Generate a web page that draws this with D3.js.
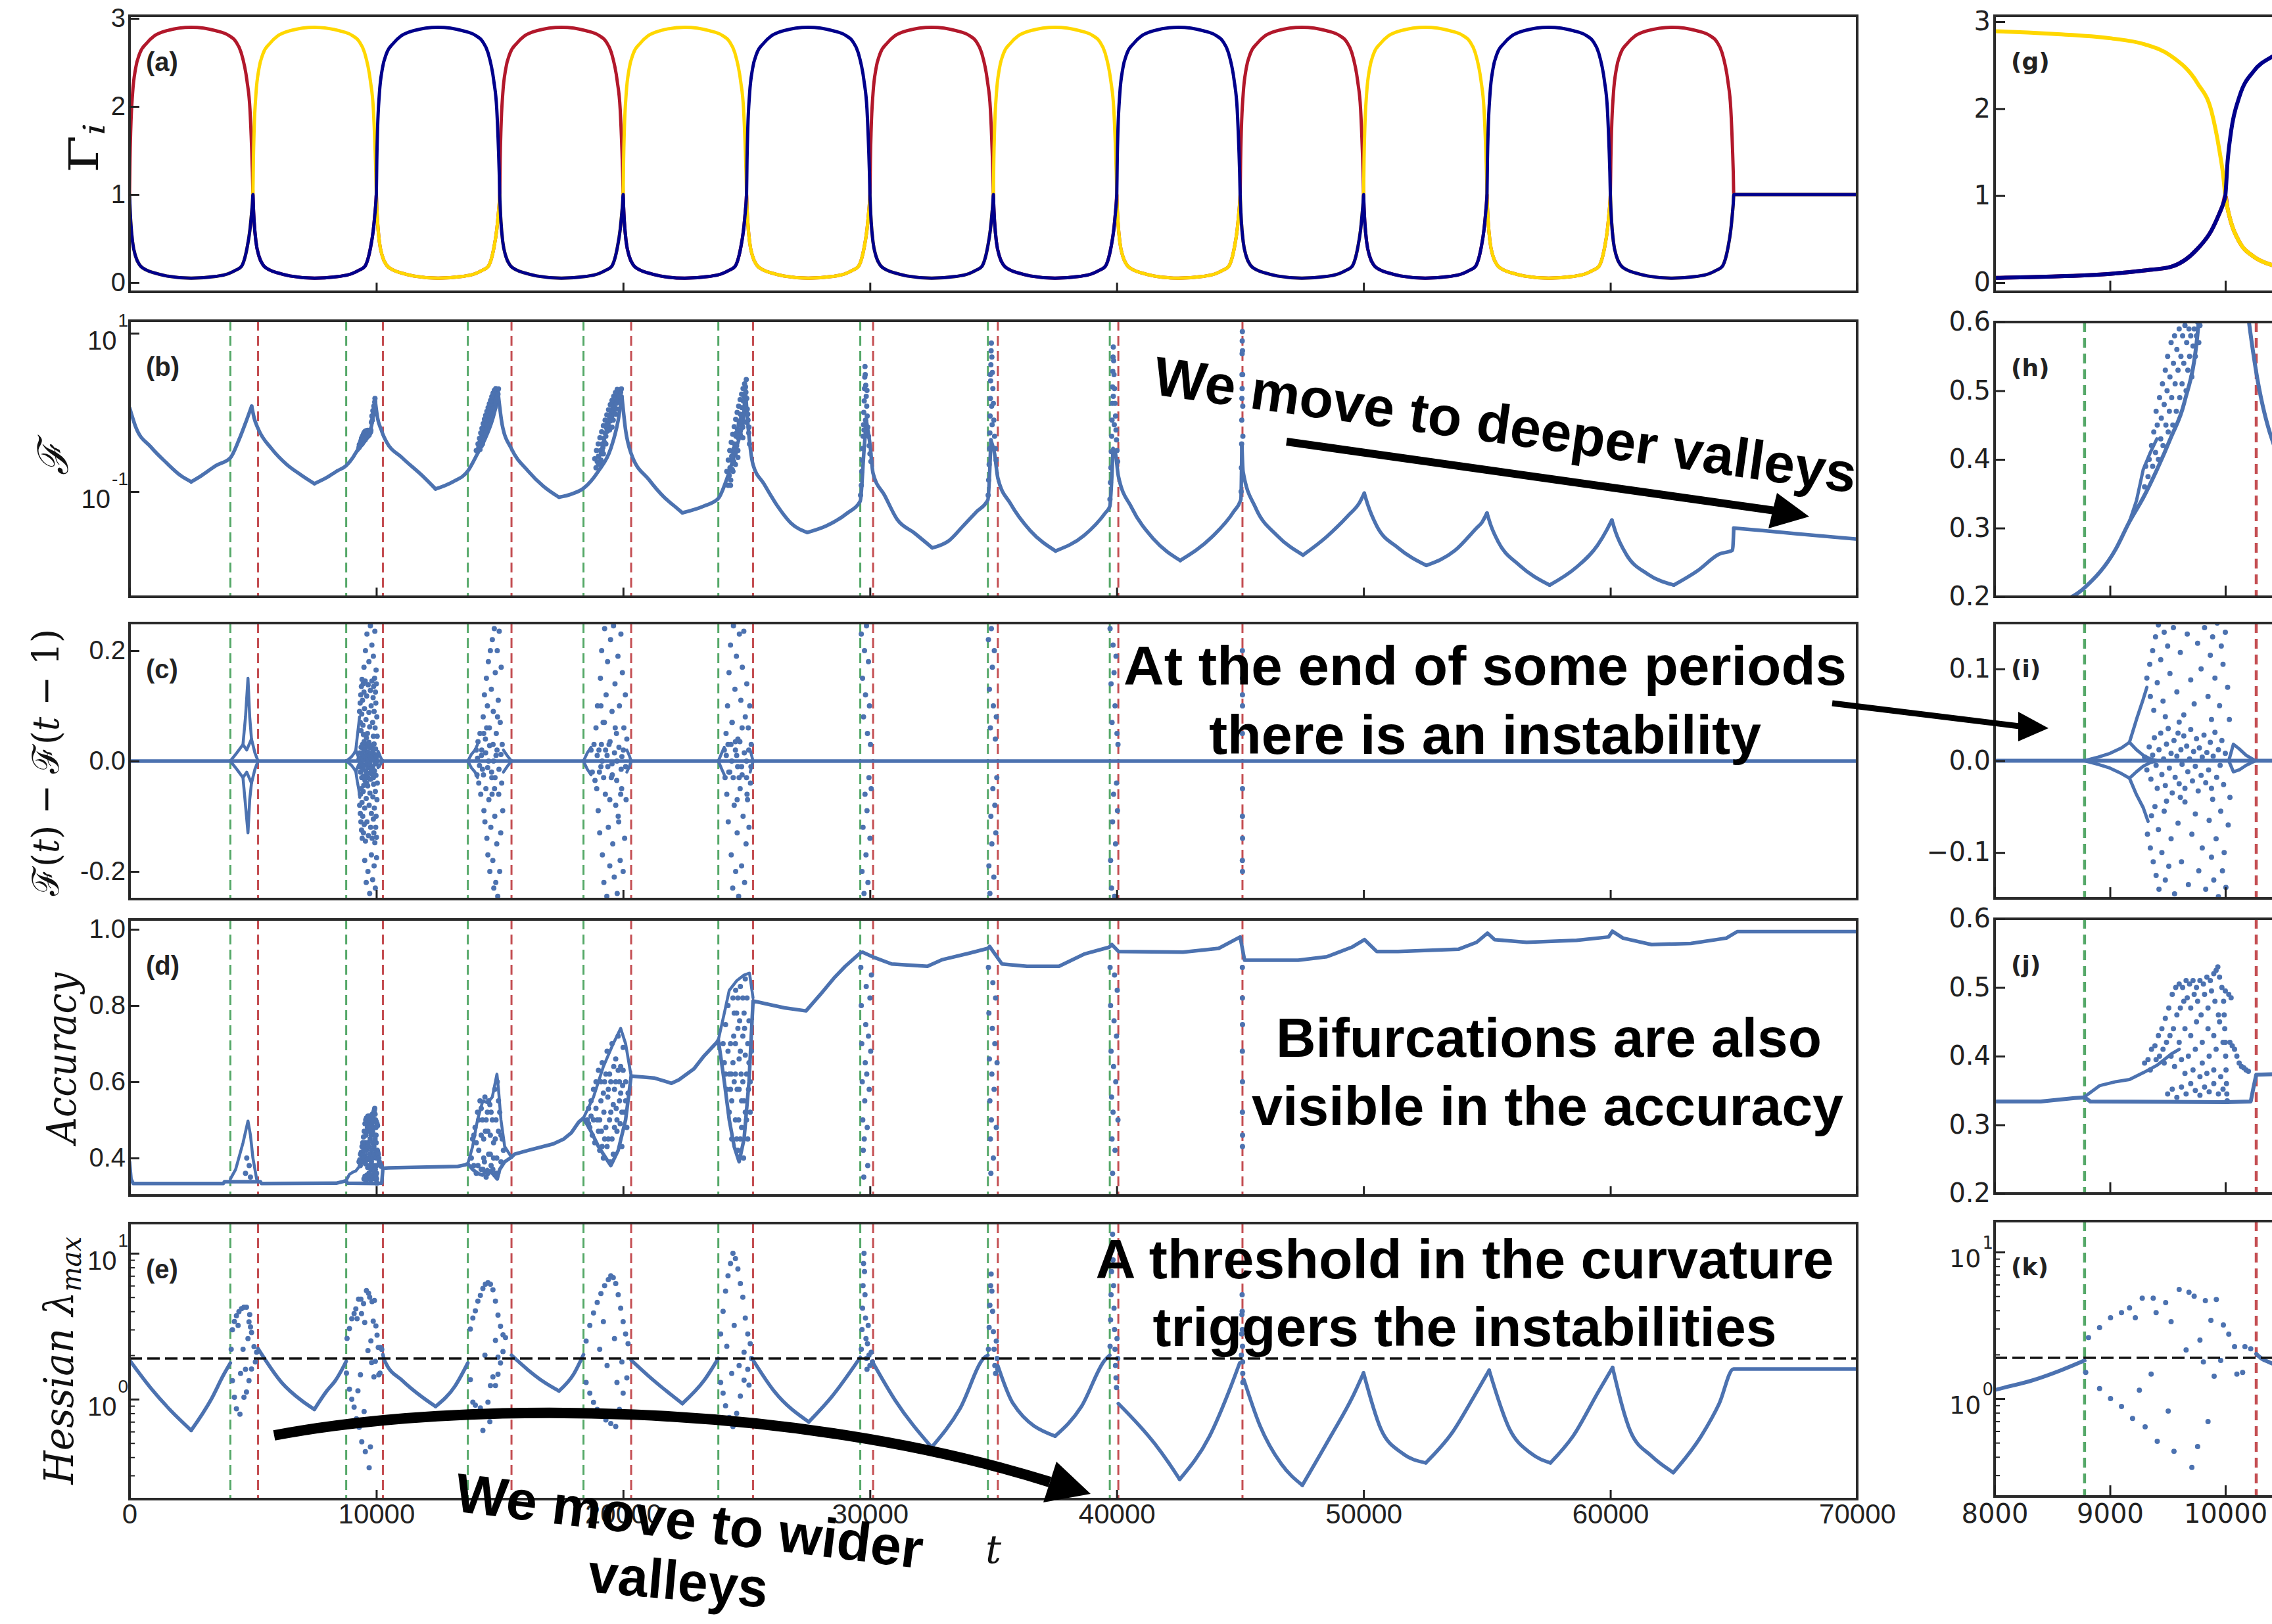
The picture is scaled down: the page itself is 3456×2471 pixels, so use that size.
<!DOCTYPE html>
<html><head><meta charset="utf-8">
<script src="https://cdn.jsdelivr.net/npm/d3@7/dist/d3.min.js"></script>
<style>html,body{margin:0;padding:0;background:#fff;} svg{display:block;}</style>
</head><body>
<svg id="chart" width="3456" height="2471" xmlns="http://www.w3.org/2000/svg"></svg>
<script>
// ================= DATA =================
const greenLines = [4086, 8780, 13708, 18394, 23857, 29608, 34779, 39718];
const redLines = [5208, 10268, 15477, 20325, 25264, 30128, 35183, 40064, 45094];
const xTicksL = [0,10000,20000,30000,40000,50000,60000,70000];
const xTicksR = [8000,9000,10000];
const hessThreshold = 1.9;

const periodStarts = [0,5000,10000,15000,20000,25000,30000,35000,40000,45000,50000,55000,60000];
const periodLeader = ['r','y','b','r','y','b','r','y','b','r','y','b','r'];
const gammaOffsets = [0,20,50,125,245,410,700,1000,1500,2500,3500,4000,4300,4525,4760,4880,4950,4980,5000];
const gammaHigh = [1,1.4,1.74,2.15,2.43,2.6,2.72,2.8,2.86,2.9,2.86,2.81,2.74,2.61,2.29,1.97,1.51,1.25,1];
const gammaLow  = [1,0.85,0.69,0.46,0.3,0.2,0.14,0.11,0.075,0.05,0.07,0.1,0.14,0.18,0.39,0.6,0.8,0.9,1];
const gammaTail = [[70000,1]];

// (b) loss F
const fLine = [[0,1.153],[255,0.65],[866,0.366],[1478,0.234],[2090,0.158],[2500,0.133],[2900,0.158],[3515,0.214],[4086,0.267],[4430,0.447],[4740,0.794],[4950,1.2],
[5050,0.85],[5217,0.617],[5760,0.347],[6370,0.22],[6980,0.16],[7490,0.126],[8000,0.151],[8410,0.182],[8779,0.213],[9049,0.269],[9168,0.309],[9288,0.344],[9407,0.385],[9526,0.431],[9645,0.483],[9765,0.593],[9860,0.85],[9950,1.45],[10050,0.85],[10205,0.6],[10265,0.53],[10403,0.43],
[11050,0.267],[11870,0.158],[12400,0.108],[13100,0.133],[13708,0.182],[14100,0.302],[14420,0.473],[14700,0.8],[14950,1.6],[15100,0.7],[15477,0.347],
[16150,0.182],[16770,0.117],[17400,0.085],[17900,0.093],[18394,0.11],[19000,0.182],[19500,0.35],[19800,0.8],[19950,1.6],[20100,0.6],[20325,0.302],
[21050,0.141],[21660,0.085],[22070,0.066],[22400,0.054],[23290,0.066],[23857,0.082],[24160,0.133],[24570,0.347],[24880,0.89],[24950,2.0],[25100,0.5],[25264,0.219],
[25700,0.126],[26250,0.066],[26800,0.04],[27465,0.0305],[28240,0.037],[29100,0.054],[29608,0.076],[29750,0.3],[29850,0.8],[30000,0.4],[30128,0.17],
[30600,0.089],[31100,0.0447],[31800,0.03],[32525,0.0195],[33200,0.024],[33780,0.037],[34300,0.055],[34779,0.079],[34900,0.45],[35050,0.3],[35183,0.148],
[35700,0.07],[36500,0.032],[37520,0.0178],[38680,0.028],[39540,0.054],[39718,0.065],[39850,0.35],[39950,0.3],[40064,0.158],
[40600,0.063],[41500,0.025],[42570,0.0135],[43870,0.027],[44740,0.056],[45030,0.08],[45070,0.4],[45120,0.178],
[45620,0.063],[46490,0.028],[47550,0.0158],[48510,0.027],[49380,0.05],[49830,0.072],[50030,0.0955],[50180,0.067],[50530,0.037],[51400,0.0195],[52545,0.0117],[53700,0.018],[54580,0.0347],[54800,0.041],[55000,0.0537],[55150,0.038],[55450,0.0234],[56320,0.0117],[57540,0.0066],[58610,0.011],[59480,0.021],[59860,0.033],[60060,0.0437],[60210,0.031],[60640,0.0162],[61510,0.0091],[62570,0.0066],[63530,0.01],[64400,0.0162],[64950,0.0182],[65000,0.0347],[67500,0.0295],[70000,0.0251]];
const fBranches = [[[9168,0.309],[9230,0.34],[9288,0.385],[9350,0.41],[9407,0.43]]];
const fCloud = [
[9300,0.36],[9310,0.39],[9330,0.375],[9340,0.40],[9360,0.42],[9370,0.39],[9380,0.44],[9395,0.41],[9400,0.47],[9410,0.45],[9420,0.40],[9430,0.49],[9440,0.43],[9445,0.46],[9455,0.51],[9460,0.42],[9470,0.48],[9480,0.53],[9485,0.45],[9495,0.50],[9500,0.55],[9505,0.44],[9515,0.47],[9520,0.52],[9530,0.57],[9535,0.49],[9545,0.45],[9550,0.54],[9560,0.58],[9565,0.51],[9575,0.47],[9580,0.56],[9590,0.53],[9600,0.59],[9605,0.49],[9615,0.55],[9625,0.51],[9630,0.58],[9640,0.54],[9650,0.595],[9660,0.50],[9665,0.57],[9675,0.53],[9685,0.59],[9690,0.55],[9700,0.58],[9710,0.52],[9720,0.565],[9730,0.59],[9740,0.55],[9750,0.58],[9760,0.60],[9770,0.57],[9780,0.595],
[9800,0.75],[9820,0.9],[9840,0.8],[9860,1.05],[9880,0.95],[9900,1.2],[9920,1.1],[9935,1.35],[9945,1.5],
[14150,0.36],[14200,0.42],[14250,0.38],[14280,0.5],[14320,0.45],[14350,0.58],[14380,0.52],[14400,0.66],[14430,0.6],[14460,0.75],[14490,0.68],[14510,0.85],[14540,0.78],[14570,0.95],[14600,0.88],[14620,1.05],[14650,0.98],[14680,1.18],[14710,1.1],[14740,1.3],[14770,1.22],[14800,1.45],[14830,1.38],[14860,1.62],[14890,1.55],[14910,1.8],[14930,1.7],[14950,1.98],[14600,0.72],[14700,0.9],[14800,1.15],[14500,0.62],[14300,0.4],[14420,0.55],
[14050,0.33],[14120,0.4],[14180,0.47],[14230,0.55],[14280,0.63],[14330,0.72],[14380,0.82],[14430,0.92],[14480,1.03],[14530,1.15],[14580,1.28],[14630,1.42],[14680,1.58],[14730,1.75],[14780,1.9],[14840,2.0],[14200,0.34],[14350,0.48],[14500,0.7],[14650,0.85],
[18900,0.2],[18950,0.24],[19000,0.28],[19050,0.23],[19080,0.33],[19120,0.3],[19150,0.4],[19180,0.36],[19210,0.47],[19240,0.42],[19270,0.55],[19300,0.5],[19330,0.64],[19360,0.58],[19390,0.74],[19420,0.67],[19450,0.85],[19480,0.78],[19510,0.97],[19540,0.9],[19570,1.1],[19600,1.02],[19630,1.25],[19660,1.15],[19690,1.4],[19720,1.3],[19750,1.55],[19780,1.45],[19810,1.72],[19840,1.62],[19870,1.9],[19900,1.8],[19930,1.98],[19300,0.4],[19450,0.6],[19600,0.8],[19750,1.1],[19200,0.3],[19100,0.25],
[18850,0.26],[18920,0.33],[18990,0.4],[19060,0.48],[19130,0.57],[19200,0.68],[19270,0.8],[19340,0.93],[19410,1.08],[19480,1.25],[19550,1.42],[19620,1.6],[19690,1.78],[19760,1.95],[19000,0.22],[19150,0.33],[19350,0.7],[19550,0.65],[19700,0.95],[19850,1.35],
[24250,0.12],[24300,0.16],[24330,0.2],[24360,0.14],[24390,0.25],[24420,0.19],[24450,0.32],[24480,0.24],[24510,0.4],[24540,0.3],[24570,0.5],[24600,0.38],[24630,0.62],[24660,0.48],[24690,0.78],[24720,0.6],[24750,0.95],[24780,0.75],[24810,1.15],[24840,0.92],[24870,1.4],[24900,1.12],[24920,1.7],[24940,1.4],[24960,2.1],[24975,1.8],[24990,2.6],[25010,1.5],[25030,1.1],[25060,0.8],[25090,0.55],[25120,0.4],[24400,0.28],[24500,0.35],[24600,0.55],[24700,0.7],[24800,0.85],[24900,1.6],[24550,0.22],[24650,0.33],[24750,0.52],[24850,0.65],
[24200,0.18],[24260,0.25],[24320,0.33],[24380,0.42],[24440,0.53],[24500,0.66],[24560,0.82],[24620,1.0],[24680,1.2],[24740,1.45],[24800,1.7],[24860,2.0],[24920,2.3],[24350,0.12],[24450,0.18],[24650,0.27],[24850,0.48],[24950,0.75],[25050,0.95],[25100,0.65],
[29620,0.09],[29650,0.12],[29670,0.18],[29690,0.25],[29700,0.35],[29720,0.5],[29740,0.7],[29750,1.0],[29770,1.4],[29780,2.0],[29790,2.8],[29800,3.8],[29810,3.0],[29830,2.2],[29850,1.6],[29870,1.2],[29890,0.9],[29910,0.65],[29940,0.5],[29970,0.38],[30000,0.3],[30040,0.24],[29760,0.6],[29820,0.8],[29880,1.9],
[34790,0.09],[34810,0.14],[34830,0.22],[34850,0.35],[34860,0.55],[34870,0.9],[34880,1.5],[34890,2.5],[34900,4.0],[34910,6.0],[34920,7.5],[34940,5.0],[34960,3.2],[34980,2.0],[35000,1.3],[35020,0.8],[35050,0.5],[35080,0.35],[35110,0.25],[34930,1.2],[34950,0.7],[34880,3.0],
[39725,0.08],[39745,0.13],[39765,0.2],[39780,0.32],[39795,0.5],[39810,0.8],[39820,1.3],[39830,2.1],[39840,3.3],[39850,5.0],[39860,6.7],[39875,4.5],[39890,3.0],[39910,2.0],[39930,1.3],[39950,0.9],[39970,0.6],[39990,0.45],[40010,0.33],[40035,0.24],[39860,1.6],[39900,0.7],
[45040,0.1],[45050,0.2],[45060,0.4],[45065,0.8],[45070,1.5],[45075,3.0],[45080,5.5],[45085,8.0],[45090,10.5],[45095,6.0],[45100,3.0],[45105,1.2],[45110,0.5],[45080,2.0]];

// (c) F(t) - F(t-1)
const dfLine = [[0,0],[70000,0]];
const dfBranches = [
 [[4086,0],[4350,0.015],[4597,0.03],[4700,0.08],[4800,0.15],[4870,0.08],[4942,0.04],[5080,0.015],[5208,0]],
 [[4086,0],[4350,-0.015],[4597,-0.03],[4700,-0.08],[4800,-0.13],[4870,-0.07],[4942,-0.04],[5080,-0.015],[5208,0]],
 [[4597,0.03],[4750,0.02],[4942,0.04]],[[4597,-0.03],[4750,-0.02],[4942,-0.04]],
 [[8780,0],[8900,0.004],[9000,0.008],[9100,0.014],[9169,0.02],[9230,0.045],[9288,0.067],[9320,0.08]],
 [[9169,0.02],[9230,0.012],[9288,0.006],[9350,0.002],[9407,0]],
 [[8780,0],[8900,-0.004],[9000,-0.008],[9100,-0.014],[9169,-0.019],[9230,-0.037],[9288,-0.051],[9330,-0.066]],
 [[9169,-0.019],[9230,-0.012],[9288,-0.006],[9350,-0.002],[9407,0]],
 [[10030,0],[10070,0.018],[10120,0.013],[10180,0.006],[10260,0]],
 [[10030,0],[10070,-0.012],[10120,-0.01],[10180,-0.005],[10260,0]],
 [[13708,0],[13850,0.012],[14000,0.02],[14100,0.03]],[[13708,0],[13850,-0.012],[14000,-0.02],[14100,-0.03]],
 [[15150,0.02],[15300,0.01],[15477,0]],[[15150,-0.02],[15300,-0.01],[15477,0]],
 [[18394,0],[18550,0.015],[18700,0.025]],[[18394,0],[18550,-0.015],[18700,-0.025]],
 [[20150,0.02],[20250,0.01],[20325,0]],[[20150,-0.02],[20250,-0.01],[20325,0]],
 [[23857,0],[24000,0.015],[24100,0.025]],[[23857,0],[24000,-0.015],[24100,-0.025]],
 [[25150,0.02],[25264,0]],[[25150,-0.02],[25264,0]]];
const dfCloud = [
[9300,0.004],[9320,-0.01],[9340,0.015],[9355,-0.02],[9370,0.006],[9385,0.025],[9400,-0.005],[9410,-0.03],[9425,0.012],[9440,0.03],[9450,-0.015],[9465,0.002],[9480,-0.027],[9490,0.018],[9505,0.035],[9515,-0.008],[9530,0.008],[9540,-0.035],[9555,0.022],[9565,-0.018],[9580,0.005],[9590,0.03],[9600,-0.025],[9615,0.012],[9625,-0.004],[9640,0.027],[9650,-0.03],[9665,0.016],[9675,-0.012],[9690,0.002],[9700,0.034],[9715,-0.022],[9725,0.01],[9740,-0.006],[9750,0.024],[9765,-0.033],[9775,0.014],[9790,-0.016],[9800,0.004],[9815,0.028],[9830,-0.024],[9840,0.009],[9855,-0.01],[9870,0.02],[9880,-0.03],[9895,0.005],[9910,0.031],[9925,-0.018],[9940,0.012],[9955,-0.005],[9970,0.022],[9985,-0.026],[10000,0.008],
[9320,0.09],[9345,0.105],[9370,0.12],[9395,0.135],[9420,0.148],[9350,0.07],[9380,0.055],[9410,0.085],[9440,0.11],[9470,0.14],[9500,0.125],[9460,0.065],[9520,0.095],[9550,0.145],[9580,0.075],[9610,0.118],[9640,0.05],[9670,0.138],[9700,0.088],[9730,0.062],[9760,0.128],[9790,0.1],[9820,0.145],[9850,0.07],[9870,0.115],[9890,0.135],[9910,0.09],[9930,0.15],[9950,0.06],[9965,0.125],[9980,0.105],[10000,0.14],[10020,0.08],[10035,0.045],[9880,0.045],[9600,0.042],[9480,0.048],
[9325,-0.08],[9350,-0.095],[9375,-0.11],[9400,-0.125],[9425,-0.14],[9360,-0.06],[9390,-0.05],[9420,-0.075],[9450,-0.1],[9480,-0.13],[9510,-0.115],[9470,-0.055],[9530,-0.085],[9560,-0.145],[9590,-0.068],[9620,-0.11],[9650,-0.045],[9680,-0.135],[9710,-0.08],[9740,-0.058],[9770,-0.12],[9800,-0.095],[9830,-0.14],[9860,-0.065],[9880,-0.105],[9900,-0.13],[9920,-0.085],[9940,-0.148],[9960,-0.055],[9975,-0.12],[9990,-0.1],[10005,-0.138],[10025,-0.07],[10040,-0.04],[9890,-0.042],[9610,-0.04],[9490,-0.044],
[9500,0.17],[9560,0.2],[9620,0.23],[9700,0.18],[9760,0.245],[9820,0.21],[9880,0.19],[9940,0.235],[9990,0.165],[9530,-0.18],[9590,-0.22],[9660,-0.2],[9730,-0.24],[9800,-0.17],[9850,-0.215],[9910,-0.19],[9960,-0.23],[10010,-0.175],
[14050,0.02],[14080,-0.025],[14120,0.035],[14150,-0.04],[14200,0.05],[14230,-0.06],[14260,0.01],[14300,-0.015],[14330,0.08],[14360,-0.09],[14380,0.12],[14400,-0.11],[14420,0.04],[14440,-0.05],[14460,0.15],[14480,-0.14],[14500,0.1],[14520,-0.17],[14540,0.18],[14560,-0.07],[14580,0.06],[14600,-0.2],[14620,0.2],[14640,-0.12],[14660,0.13],[14680,-0.03],[14700,0.22],[14720,-0.18],[14740,0.09],[14760,-0.23],[14780,0.24],[14800,-0.1],[14820,0.16],[14840,-0.22],[14860,0.05],[14880,-0.15],[14900,0.2],[14920,-0.245],[14940,0.11],[14960,-0.06],[14980,0.235],[15000,-0.2],[15020,0.07],[15040,-0.13],[15060,0.17],[15080,-0.04],[15100,0.03],[15120,-0.09],[14750,0.0],[14850,0.01],[14550,0.0],
[14100,0.005],[14180,-0.008],[14270,0.02],[14340,-0.025],[14430,0.015],[14510,-0.012],[14590,0.028],[14670,-0.02],[14730,0.03],[14810,-0.03],[14890,0.02],[14970,-0.015],[15050,0.012],[14470,0.06],[14690,-0.06],[14910,0.08],[14350,0.05],[14790,-0.05],
[18700,0.02],[18750,-0.02],[18820,0.03],[18860,-0.035],[18900,0.06],[18930,-0.05],[18960,0.1],[18990,-0.09],[19020,0.02],[19050,-0.13],[19080,0.15],[19100,-0.01],[19130,0.2],[19160,-0.17],[19190,0.07],[19220,-0.22],[19250,0.24],[19280,-0.06],[19310,0.12],[19340,-0.245],[19370,0.18],[19400,-0.12],[19430,0.03],[19460,-0.19],[19490,0.22],[19520,-0.03],[19550,0.09],[19580,-0.15],[19610,0.245],[19640,-0.21],[19670,0.14],[19700,-0.08],[19730,0.05],[19760,-0.24],[19790,0.19],[19820,-0.11],[19850,0.1],[19880,-0.18],[19910,0.23],[19940,-0.05],[19970,0.16],[20000,-0.2],[20030,0.06],[20060,-0.14],[20090,0.12],[20120,-0.07],[20150,0.04],[19150,0.0],[19350,0.01],[19550,-0.005],[19750,0.0],[19950,0.008],
[18950,0.01],[19040,-0.02],[19120,0.03],[19210,-0.03],[19290,0.02],[19380,-0.01],[19470,0.035],[19560,-0.025],[19650,0.015],[19740,-0.035],[19830,0.025],[19920,-0.015],[20010,0.02],[20100,-0.01],[19240,0.07],[19460,-0.07],[19680,0.06],[19900,-0.06],[19100,0.1],[19800,-0.1],
[24100,0.02],[24130,-0.03],[24170,0.05],[24200,-0.06],[24230,0.1],[24260,-0.11],[24290,0.16],[24320,-0.02],[24350,0.21],[24380,-0.17],[24410,0.07],[24440,-0.23],[24470,0.245],[24500,-0.08],[24530,0.13],[24560,-0.2],[24590,0.19],[24620,-0.13],[24650,0.04],[24680,-0.245],[24710,0.23],[24740,-0.05],[24770,0.11],[24800,-0.19],[24830,0.17],[24860,-0.1],[24890,0.235],[24920,-0.22],[24950,0.08],[24980,-0.15],[25010,0.14],[25040,-0.07],[25070,0.06],[25100,-0.12],[25130,0.1],[25160,-0.04],[25190,0.03],[24400,0.0],[24600,0.01],[24800,-0.01],[25000,0.0],[24250,0.03],[24700,-0.03],[24550,0.035],
[24180,0.01],[24280,-0.02],[24370,0.03],[24460,-0.03],[24550,0.02],[24640,-0.01],[24730,0.035],[24820,-0.025],[24910,0.015],[25000,-0.03],[25090,0.02],[25180,-0.01],[24420,0.07],[24620,-0.07],[24820,0.06],[25020,-0.06],
[29650,0.23],[29680,-0.2],[29700,0.15],[29720,-0.12],[29740,0.08],[29760,-0.24],[29780,0.2],[29800,-0.06],[29820,0.12],[29840,-0.17],[29860,0.245],[29880,-0.09],[29900,0.05],[29920,-0.22],[29940,0.18],[29960,-0.03],[29980,0.1],[30000,-0.14],[30020,0.03],[30050,-0.05],
[34800,0.22],[34820,-0.19],[34840,0.13],[34860,-0.24],[34880,0.06],[34900,-0.1],[34920,0.24],[34940,-0.15],[34960,0.17],[34980,-0.05],[35000,0.1],[35020,-0.21],[35040,0.2],[35060,-0.08],[35080,0.04],[35100,-0.13],[35120,0.08],[35140,-0.03],
[39730,0.24],[39750,-0.18],[39770,0.14],[39790,-0.23],[39810,0.07],[39830,-0.11],[39850,0.21],[39870,-0.06],[39890,0.16],[39910,-0.245],[39930,0.1],[39950,-0.15],[39970,0.19],[39990,-0.04],[40010,0.05],[40030,-0.09],[40050,0.03],
[45090,0.2],[45092,0.15],[45095,0.1],[45090,0.05],[45094,-0.05],[45092,-0.1],[45096,-0.14],[45090,-0.18],[45094,-0.2],[45093,0.12]];

// (d) accuracy
const accLine = [[0,0.39],[60,0.345],[150,0.333],[3800,0.333],[3850,0.338],[5300,0.338],[5350,0.333],[8400,0.334],[8693,0.339],[8780,0.34],[8830,0.334],[10000,0.333],[10220,0.334],[10245,0.355],[10268,0.373],[10500,0.374],[13300,0.378],[13600,0.382],[13708,0.385],
[13900,0.37],[14100,0.36],[14300,0.355],[14500,0.37],[14700,0.36],[14900,0.345],[15000,0.37],[15200,0.39],[15477,0.402],
[15600,0.41],[16150,0.42],[17170,0.437],[17600,0.45],[17900,0.466],[18200,0.494],[18394,0.505],
[18700,0.47],[19000,0.43],[19300,0.40],[19500,0.38],[19800,0.42],[20100,0.5],[20325,0.615],
[21250,0.61],[21960,0.596],[22260,0.605],[22870,0.634],[23280,0.668],[23790,0.703],[23857,0.71],
[24100,0.6],[24300,0.5],[24500,0.43],[24700,0.39],[24900,0.45],[25100,0.6],[25264,0.812],
[26540,0.794],[27410,0.786],[27990,0.829],[28570,0.874],[29000,0.903],[29608,0.938],[29700,0.94],[30180,0.926],[30880,0.909],[32330,0.903],[32910,0.92],[34060,0.938],[34779,0.95],[34850,0.955],[35350,0.909],[36360,0.903],[37660,0.903],[38680,0.935],[39690,0.953],[39800,0.96],[40070,0.942],[42680,0.94],[44130,0.95],[45000,0.98],[45180,0.919],[47350,0.919],[48510,0.928],[49520,0.953],[50040,0.973],[50530,0.942],[51400,0.942],[53860,0.948],[54580,0.966],[55020,0.99],[55310,0.973],[56610,0.966],[58630,0.971],[59930,0.98],[60080,0.995],[60510,0.977],[61670,0.96],[63260,0.963],[64700,0.977],[65140,0.994],[70000,0.994]];
const accBranches = [
 [[4086,0.345],[4300,0.37],[4600,0.44],[4800,0.497],[4900,0.46],[5000,0.40],[5150,0.345],[5208,0.338]],
 [[8780,0.341],[8813,0.345],[8910,0.357],[9055,0.363],[9170,0.366],[9290,0.376],[9410,0.387],[9530,0.403],[9600,0.41]],
 [[13708,0.385],[13900,0.43],[14100,0.5],[14316,0.55],[14500,0.545],[14700,0.56],[14887,0.62],[14950,0.58],[15050,0.5],[15200,0.43],[15477,0.402]],
 [[18394,0.505],[18800,0.56],[19200,0.64],[19600,0.7],[19900,0.74],[20100,0.7],[20325,0.615]],
 [[23857,0.71],[24100,0.78],[24300,0.84],[24600,0.865],[24900,0.88],[25120,0.885],[25264,0.82]]];
const accCloud = [
[4700,0.36],[4750,0.4],[4850,0.38],[4900,0.35],
[9300,0.39],[9330,0.395],[9360,0.41],[9390,0.415],[9420,0.43],[9450,0.44],[9480,0.455],[9510,0.47],[9540,0.49],[9570,0.5],[9600,0.505],[9630,0.5],[9660,0.51],[9690,0.505],[9720,0.51],[9750,0.5],[9780,0.51],[9810,0.505],[9840,0.515],[9870,0.51],[9900,0.52],[9920,0.525],[9935,0.53],[9950,0.515],[9970,0.5],[10000,0.495],[10030,0.49],[10050,0.485],
[9350,0.38],[9400,0.395],[9430,0.4],[9460,0.41],[9490,0.42],[9520,0.43],[9550,0.44],[9470,0.39],[9530,0.4],[9580,0.46],[9610,0.47],[9640,0.48],[9670,0.485],[9700,0.47],[9730,0.49],[9760,0.48],[9790,0.46],[9820,0.49],[9850,0.47],[9880,0.495],[9910,0.48],[9940,0.46],[9600,0.42],[9650,0.44],[9700,0.43],[9750,0.45],[9800,0.42],[9850,0.44],[9900,0.43],[9950,0.45],[9560,0.385],[9620,0.395],[9680,0.4],[9740,0.41],[9800,0.39],[9860,0.4],[9920,0.41],[9980,0.42],[9650,0.375],[9720,0.38],[9780,0.37],[9840,0.375],[9900,0.38],[9960,0.37],
[9500,0.345],[9540,0.352],[9580,0.34],[9620,0.355],[9660,0.345],[9700,0.36],[9740,0.35],[9780,0.343],[9820,0.355],[9860,0.348],[9900,0.36],[9940,0.345],[9980,0.352],
[9985,0.48],[9990,0.46],[9995,0.44],[10000,0.42],[10003,0.4],[10006,0.38],[10010,0.36],[10013,0.345],[10016,0.335],[10020,0.334],
[10040,0.42],[10060,0.415],[10080,0.41],[10100,0.4],[10120,0.39],[10140,0.385],[10160,0.383],[10180,0.38],[10200,0.378],
[13850,0.4],[13900,0.45],[13950,0.38],[14000,0.48],[14050,0.36],[14100,0.52],[14150,0.42],[14200,0.55],[14250,0.37],[14300,0.5],[14350,0.45],[14400,0.56],[14450,0.35],[14500,0.52],[14550,0.41],[14600,0.54],[14650,0.38],[14700,0.5],[14750,0.44],[14800,0.58],[14850,0.36],[14900,0.6],[14950,0.47],[15000,0.52],[15050,0.39],[15100,0.45],[15150,0.42],[14380,0.39],[14620,0.46],[14880,0.4],[14520,0.47],[14250,0.46],
[13950,0.46],[14050,0.44],[14150,0.5],[14250,0.53],[14350,0.4],[14450,0.5],[14550,0.55],[14650,0.52],[14750,0.4],[14850,0.5],[14950,0.55],[15050,0.46],[14120,0.38],[14320,0.37],[14520,0.36],[14720,0.37],[14920,0.36],[14420,0.47],[14620,0.41],[14820,0.45],
[18550,0.5],[18600,0.53],[18650,0.48],[18700,0.55],[18750,0.46],[18800,0.58],[18850,0.44],[18900,0.6],[18950,0.5],[19000,0.63],[19050,0.42],[19100,0.55],[19150,0.65],[19200,0.4],[19250,0.6],[19300,0.48],[19350,0.68],[19400,0.45],[19450,0.62],[19500,0.52],[19550,0.7],[19600,0.41],[19650,0.58],[19700,0.66],[19750,0.47],[19800,0.72],[19850,0.55],[19900,0.64],[19950,0.43],[20000,0.69],[20050,0.52],[20100,0.6],[20150,0.48],[20200,0.57],[19220,0.52],[19480,0.39],[19720,0.53],[19980,0.59],[19120,0.47],[19380,0.56],[19620,0.64],[19880,0.49],
[18600,0.49],[18700,0.51],[18800,0.5],[18900,0.53],[19000,0.47],[19100,0.6],[19200,0.57],[19300,0.62],[19400,0.58],[19500,0.6],[19600,0.54],[19700,0.6],[19800,0.63],[19900,0.57],[20000,0.63],[20100,0.55],[19150,0.43],[19350,0.43],[19550,0.45],[19750,0.5],[19950,0.52],[19050,0.5],[19250,0.45],[19450,0.5],[19650,0.48],[19850,0.6],
[24050,0.7],[24100,0.65],[24150,0.75],[24200,0.58],[24250,0.8],[24300,0.52],[24350,0.7],[24400,0.45],[24450,0.82],[24500,0.6],[24550,0.5],[24600,0.78],[24650,0.42],[24700,0.66],[24750,0.85],[24800,0.48],[24850,0.72],[24900,0.55],[24950,0.87],[25000,0.62],[25050,0.45],[25100,0.76],[25150,0.52],[25200,0.68],[24480,0.72],[24620,0.58],[24780,0.62],[24920,0.74],[25080,0.58],[24380,0.62],[24680,0.5],[24880,0.4],[25020,0.82],[24560,0.84],[24720,0.76],
[24150,0.62],[24250,0.68],[24350,0.58],[24450,0.65],[24550,0.7],[24650,0.74],[24750,0.68],[24850,0.6],[24950,0.67],[25050,0.7],[24300,0.62],[24500,0.78],[24700,0.58],[24900,0.78],[25100,0.65],[24400,0.55],[24600,0.45],[24800,0.55],[25000,0.5],[25150,0.6],[24550,0.62],[24750,0.45],[24950,0.52],[24650,0.82],[24850,0.82],
[29630,0.9],[29650,0.8],[29670,0.7],[29690,0.6],[29710,0.5],[29730,0.42],[29750,0.35],[29770,0.45],[29790,0.55],[29810,0.65],[29830,0.75],[29850,0.85],[29870,0.62],[29890,0.48],[29910,0.38],[29940,0.72],[29970,0.58],[30000,0.82],[30030,0.68],[30060,0.88],
[34800,0.9],[34820,0.78],[34840,0.66],[34860,0.55],[34880,0.45],[34900,0.36],[34920,0.5],[34940,0.62],[34960,0.74],[34980,0.86],[35000,0.4],[35030,0.58],[35060,0.7],[35090,0.82],[35120,0.48],[35150,0.65],
[39730,0.9],[39750,0.8],[39770,0.68],[39790,0.56],[39810,0.45],[39830,0.36],[39850,0.52],[39870,0.64],[39890,0.76],[39910,0.88],[39930,0.42],[39960,0.6],[39990,0.72],[40020,0.84],[40050,0.5],
[45090,0.9],[45092,0.82],[45095,0.75],[45090,0.68],[45094,0.6],[45092,0.52],[45096,0.46],[45094,0.43]];

// (e) Hessian lambda_max
const hessSegments = [
 [[0,1.854],[866,1.189],[1680,0.832],[2500,0.611],[3314,1.0],[3821,1.479],[4086,1.77]],
 [[5208,2.22],[6170,1.297],[6990,0.973],[7490,0.851],[8000,1.143],[8336,1.337],[8575,1.56],[8780,1.82]],
 [[10268,2.02],[10315,1.875],[10375,1.778],[11050,1.343],[11870,1.03],[12400,0.891],[13190,1.23],[13708,1.77]],
 [[15477,2.0],[16150,1.585],[16770,1.318],[17400,1.138],[17990,1.479],[18394,2.02]],
 [[20325,1.854],[21240,1.343],[22400,0.933],[23280,1.343],[23857,1.905]],
 [[25264,1.854],[26140,1.122],[27520,0.698],[28440,1.033],[29610,1.936]],
 [[30128,1.77],[31020,0.984],[32500,0.468],[33650,0.863],[34650,1.936],[34779,2.0]],
 [[35183,1.694],[35800,0.933],[37500,0.558],[38570,0.891],[39520,1.854],[39718,2.0]],
 [[40064,0.933],[41560,0.49],[42140,0.359],[42550,0.282],[43760,0.558],[44630,1.23],[44980,1.77]],
 [[45150,1.36],[45800,0.66],[46670,0.359],[47520,0.257],[48670,0.558],[49550,1.033],[50000,1.514],[50690,0.631],[51560,0.427],[52520,0.366],[53590,0.589],[54460,1.033],[55090,1.578],[55900,0.631],[56770,0.427],[57570,0.366],[58500,0.562],[59510,1.122],[60090,1.648],[60810,0.603],[61670,0.407],[62550,0.314],[63690,0.562],[64410,0.933],[64990,1.61],[70000,1.61]]];
const hessCloud = [
[4169,2.99],[4250,3.41],[4332,3.73],[4433,3.98],[4536,4.17],[4637,4.27],[4739,4.27],[4841,3.39],[4902,3.13],[4944,2.86],[5045,2.29],[4169,1.34],[4250,1.03],[4332,0.86],[4475,0.79],[4637,1.03],[4739,1.12],[4841,1.34],[4944,1.61],[4600,2.2],[4700,1.6],[4800,2.6],[4500,1.5],[5100,1.8],[4400,3.2],[4870,3.8],[4120,2.2],[5150,2.1],
[8814,2.61],[8910,3.05],[9005,3.56],[9100,3.86],[9170,4.16],[9280,4.85],[9375,4.85],[9483,4.52],[9600,5.55],[9685,5.32],[9730,5.0],[9827,4.66],[9922,4.75],
[9220,3.56],[9400,3.86],[9530,3.35],[9780,2.51],[9875,3.42],[9983,3.18],[10030,2.75],[10080,2.26],
[8790,1.51],[8910,1.17],[9005,1.0],[9100,0.883],[9196,0.733],[9305,0.641],[9410,0.511],[9555,0.437],[9710,0.339],[9760,0.471],[9850,0.697],
[9255,1.14],[9357,1.47],[9505,0.822],[9660,2.15],[9810,1.78],[9903,1.42],[9960,1.82],[10100,1.47],[10150,1.51],[10170,2.26],[10220,2.19],
[13809,3.02],[13911,3.6],[14012,4.03],[14115,4.7],[14216,5.14],[14318,5.74],[14419,6.14],[14523,6.28],[14624,6.14],[14725,5.62],[14827,4.7],[14930,3.77],[15032,3.16],[15133,2.76],[15235,2.64],
[13809,1.36],[13911,0.953],[14012,0.91],[14216,0.871],[14318,0.611],[14419,0.762],[14523,0.953],[14624,1.24],[14725,1.42],[14827,1.24],[14930,1.48],[15032,1.77],[14827,2.53],[14930,1.94],[15133,2.12],[14600,0.7],[14400,2.0],
[18500,2.5],[18650,3.2],[18800,3.9],[18950,4.6],[19100,5.3],[19250,6.0],[19400,6.6],[19500,7.0],[19600,6.8],[19700,6.2],[19800,5.2],[19900,4.2],[20000,3.4],[20100,2.8],[20200,2.4],
[18500,1.3],[18650,1.1],[18800,0.95],[18950,0.85],[19100,0.8],[19300,0.72],[19500,0.68],[19700,0.65],[19850,0.85],[20000,1.1],[20150,1.4],[19050,2.2],[19350,1.7],[19650,2.6],[19950,1.8],[19200,3.4],[19750,1.3],
[23950,2.8],[24050,4.0],[24150,5.5],[24250,7.0],[24350,8.5],[24450,10.0],[24550,9.2],[24650,7.8],[24750,6.2],[24850,5.0],[24950,3.6],[25050,2.8],[25150,2.4],
[23950,1.3],[24050,1.1],[24150,0.9],[24300,0.75],[24450,0.65],[24600,0.8],[24750,1.05],[24900,1.35],[25050,1.6],[25200,1.9],[24200,2.3],[24500,3.2],[24700,1.7],[24900,2.1],[24400,1.5],[25100,1.25],
[29650,2.2],[29680,3.0],[29700,4.2],[29720,6.0],[29740,8.5],[29760,10.0],[29780,7.5],[29800,5.2],[29820,3.6],[29840,2.6],[29860,1.9],[29880,1.6],[29900,2.4],[29930,3.2],[29960,2.0],[30000,1.7],[30050,2.1],[30100,1.8],
[34800,2.2],[34830,3.1],[34860,4.4],[34890,6.0],[34910,7.2],[34940,5.5],[34970,4.0],[35000,2.9],[35030,2.2],[35060,1.7],[35090,1.5],[35120,2.5],[35150,1.9],[35180,1.6],
[39730,2.3],[39750,3.5],[39770,5.2],[39790,7.5],[39810,10.5],[39830,13.5],[39850,9.0],[39870,6.0],[39890,4.2],[39910,3.0],[39930,2.2],[39950,1.7],[39970,1.4],[39990,1.2],[40010,2.6],[40040,1.9],
[45050,2.0],[45060,2.8],[45070,3.8],[45080,5.2],[45085,4.0],[45090,3.0],[45095,2.3],[45100,1.8],[45105,1.5],[45110,1.3]];

// tick values
const yTicksA = [0,1,2,3];
const yTicksB = [0.1,10], yExpB = ['-1','1'];
const yTicksC = [-0.2,0,0.2];
const yTicksD = [0.4,0.6,0.8,1.0];
const yTicksE = [1,10], yExpE = ['0','1'];
const yTicksH = [0.2,0.3,0.4,0.5,0.6];
const yTicksI = [-0.1,0,0.1];
const yTicksK = [1,10], yExpK = ['0','1'];
const logMinor = [0.3,0.4,0.5,0.6,0.7,0.8,0.9,2,3,4,5,6,7,8,9];

// ================= DRAWING =================
const FONT_L = "'Liberation Sans', Arial, Helvetica, sans-serif";
const FONT_R = "'DejaVu Sans', sans-serif";
const FONT_M = "'DejaVu Serif', 'Liberation Serif', serif";
const BLUE = '#4c72b0', GREEN = '#55a868', RED = '#c44e52', FRAME = '#2a2a2a';
const GCOL = {r:'#b2182b', y:'#ffd700', b:'#00008b'};

const svg = d3.select('#chart');
svg.append('rect').attr('width',3456).attr('height',2471).attr('fill','#fff');
const defs = svg.append('defs');

const xL = d3.scaleLinear().domain([0,70000]).range([197,2825]);
const xR = d3.scaleLinear().domain([8000,11000]).range([3034,3560.5]);

function gammaSeries(key){
  const pts = [];
  periodStarts.forEach((s,i)=>{
    const prof = periodLeader[i]===key ? gammaHigh : gammaLow;
    gammaOffsets.forEach((o,j)=>{ if(i>0 && j===0) return; pts.push([s+o, prof[j]]); });
  });
  return pts.concat(gammaTail);
}
const gammaData = ['r','y','b'].map(k=>({key:k, data:gammaSeries(k)}));

// split a polyline into monotone runs so smooth curves keep sharp cusps/valleys
function monotoneRuns(data){
  const runs=[]; let cur=[data[0]]; let dir=0;
  for(let i=1;i<data.length;i++){
    const d = Math.sign(data[i][1]-data[i-1][1]);
    if(dir!==0 && d!==0 && d!==dir){ runs.push(cur); cur=[data[i-1]]; }
    if(d!==0) dir=d;
    cur.push(data[i]);
  }
  runs.push(cur); return runs;
}

let clipN = 0;
function drawPanel(o){
  const isL = o.side==='L';
  const [x0,x1] = o.x.range();
  const g = svg.append('g');
  const cid = 'clip'+(clipN++);
  defs.append('clipPath').attr('id',cid).append('rect').attr('x',x0).attr('y',o.top).attr('width',x1-x0).attr('height',o.bot-o.top);
  const p = g.append('g').attr('clip-path',`url(#${cid})`);
  if(o.vlines){
    [[greenLines,GREEN],[redLines,RED]].forEach(([arr,c])=>{
      p.append('g').selectAll('line').data(arr).join('line')
        .attr('x1',d=>o.x(d)).attr('x2',d=>o.x(d)).attr('y1',o.top).attr('y2',o.bot)
        .attr('stroke',c).attr('stroke-width',isL?3:4.5).attr('stroke-dasharray',isL?'15 8':'15 9');
    });
  }
  (o.lines||[]).forEach(l=>{
    const gen = d3.line().x(d=>o.x(d[0])).y(d=>o.y(d[1])).curve(l.curve||d3.curveLinear);
    const parts = l.runs ? monotoneRuns(l.data) : [l.data];
    parts.forEach(part=>{
      p.append('path').datum(part).attr('d',gen).attr('fill','none')
        .attr('stroke',l.color).attr('stroke-width',l.w).attr('stroke-linejoin','round').attr('stroke-linecap','round');
    });
  });
  (o.dots||[]).forEach(s=>{
    p.append('g').selectAll('circle').data(s).join('circle')
      .attr('cx',d=>o.x(d[0])).attr('cy',d=>o.y(d[1])).attr('r',4).attr('fill',BLUE);
  });
  if(o.threshold){
    p.append('line').attr('x1',x0).attr('x2',x1).attr('y1',o.y(o.threshold)).attr('y2',o.y(o.threshold))
      .attr('stroke','#111').attr('stroke-width',3.5).attr('stroke-dasharray','19 8');
  }
  g.append('rect').attr('x',x0).attr('y',o.top).attr('width',x1-x0).attr('height',o.bot-o.top)
    .attr('fill','none').attr('stroke',FRAME).attr('stroke-width',4);
  const font = isL?FONT_L:FONT_R, fs = 40;
  const ya = d3.axisLeft(o.y).tickValues(o.yTicks).tickSize(isL?-15:-16).tickPadding(6)
    .tickFormat(o.yFormat || (()=>''));
  const yg = g.append('g').attr('transform',`translate(${x0},0)`).call(ya);
  yg.select('.domain').remove();
  yg.attr('font-family',font).attr('font-size',fs).attr('color','#222');
  yg.selectAll('line').attr('stroke-width',3);
  if(o.minor){
    const mg = g.append('g').attr('transform',`translate(${x0},0)`)
      .call(d3.axisLeft(o.y).tickValues(o.minor).tickSize(-8).tickFormat(()=>''));
    mg.select('.domain').remove();
    mg.attr('color','#222'); mg.selectAll('line').attr('stroke-width',2);
  }
  if(o.logExp){
    const edge = x0-2;
    o.yTicks.forEach((v,i)=>{
      const yy = o.y(v);
      const sup = g.append('text').attr('x',edge).attr('y',yy+(isL?-10:-5)).attr('text-anchor','end')
        .attr('font-family',font).attr('font-size',isL?28:26).attr('fill','#222').text(o.logExp[i]);
      const w = sup.node().getComputedTextLength();
      g.append('text').attr('x',edge-w-2).attr('y',yy+(isL?25:23)).attr('text-anchor','end')
        .attr('font-family',font).attr('font-size',isL?40:38).attr('fill','#222').text('10');
    });
  }
  const xa = d3.axisBottom(o.x).tickValues(isL?xTicksL:xTicksR).tickSize(isL?-14:-17).tickPadding(isL?7:12)
    .tickFormat(o.xLabels ? d3.format('d') : (()=>''));
  const xg = g.append('g').attr('transform',`translate(0,${o.bot})`).call(xa);
  xg.select('.domain').remove();
  xg.attr('font-family',font).attr('font-size',isL?42:40).attr('color','#222');
  xg.selectAll('line').attr('stroke-width',3);
  g.append('text').attr('x',isL?222:3059).attr('y',o.top+(isL?84:82)).text(o.label)
    .attr('font-family',font).attr('font-weight','bold').attr('font-size',isL?40:36).attr('fill','#222');
}

const rowsL = [[24,444],[488,908],[948,1368],[1399,1819],[1861,2281]];
const rowsR = [[24,444],[490,908],[948,1367],[1398,1816],[1858,2277]];

const scales = {
  a: d3.scaleLinear().domain([-0.105,3.03]).range([444,24]),
  b: d3.scaleLog().domain([0.0047,14.39]).range([908,488]),
  c: d3.scaleLinear().domain([-0.25,0.25]).range([1368,948]),
  d: d3.scaleLinear().domain([0.3016,1.0259]).range([1819,1399]),
  e: d3.scaleLog().domain([0.2065,16.1]).range([2281,1861]),
  g: d3.scaleLinear().domain([-0.106,3.068]).range([444,24]),
  h: d3.scaleLinear().domain([0.2,0.6]).range([908,490]),
  i: d3.scaleLinear().domain([-0.15,0.15]).range([1367,948]),
  j: d3.scaleLinear().domain([0.2,0.6]).range([1816,1398]),
  k: d3.scaleLog().domain([0.2148,16.26]).range([2277,1858])
};

function panelSet(side){
  const isL = side==='L';
  const x = isL?xL:xR, rows = isL?rowsL:rowsR;
  const lw = isL?5.5:6, gw = isL?5:6;
  const S = isL ? [scales.a,scales.b,scales.c,scales.d,scales.e] : [scales.g,scales.h,scales.i,scales.j,scales.k];
  const labels = isL ? ['(a)','(b)','(c)','(d)','(e)'] : ['(g)','(h)','(i)','(j)','(k)'];
  drawPanel({side, x, y:S[0], top:rows[0][0], bot:rows[0][1], label:labels[0], yTicks:yTicksA, yFormat:d3.format('d'),
    lines: gammaData.map(s=>({data:s.data, color:GCOL[s.key], w:gw, curve:d3.curveMonotoneX}))});
  drawPanel({side, x, y:S[1], top:rows[1][0], bot:rows[1][1], label:labels[1], vlines:true,
    yTicks: isL?yTicksB:yTicksH, logExp: isL?yExpB:null, yFormat: isL?null:d3.format('.1f'),
    lines:[{data:fLine,color:BLUE,w:lw,runs:true,curve:d3.curveMonotoneX}].concat(fBranches.map(b=>({data:b,color:BLUE,w:lw-1}))), dots:[fCloud]});
  drawPanel({side, x, y:S[2], top:rows[2][0], bot:rows[2][1], label:labels[2], vlines:true,
    yTicks: isL?yTicksC:yTicksI, yFormat: isL?(d=>d.toFixed(1)):d3.format('.1f'),
    lines:[{data:dfLine,color:BLUE,w:lw}].concat(dfBranches.map(b=>({data:b,color:BLUE,w:lw-1}))), dots:[dfCloud]});
  drawPanel({side, x, y:S[3], top:rows[3][0], bot:rows[3][1], label:labels[3], vlines:true,
    yTicks: isL?yTicksD:yTicksH, yFormat: d3.format('.1f'),
    lines:[{data:accLine,color:BLUE,w:lw}].concat(accBranches.map(b=>({data:b,color:BLUE,w:lw-1}))), dots:[accCloud]});
  drawPanel({side, x, y:S[4], top:rows[4][0], bot:rows[4][1], label:labels[4], vlines:true, threshold:hessThreshold,
    yTicks: isL?yTicksE:yTicksK, logExp: isL?yExpE:yExpK, minor:logMinor, xLabels:true,
    lines: hessSegments.map(sg=>({data:sg,color:BLUE,w:lw,runs:true,curve:d3.curveMonotoneX})), dots:[hessCloud]});
}
panelSet('L');
panelSet('R');

function rotLabel(x, y, parts, size, len){
  const t = svg.append('text').attr('transform',`translate(${x},${y}) rotate(-90)`).attr('text-anchor','middle')
    .attr('font-family',FONT_M).attr('font-size',size).attr('fill','#111');
  parts.forEach(pp=>{
    const ts = t.append('tspan').text(pp.s).attr('font-style',pp.i?'italic':'normal');
    if(pp.fs) ts.attr('font-size',pp.fs);
    if(pp.dy) ts.attr('dy',pp.dy);
  });
  if(len) t.attr('textLength',len).attr('lengthAdjust','spacingAndGlyphs');
}
rotLabel(149, 225, [{s:'Γ'},{s:'i',i:true,fs:44,dy:10}], 62, 76);
rotLabel(103, 698, [{s:'ℱ',i:true}], 64, 50);
rotLabel(89, 1160, [{s:'ℱ('},{s:'t',i:true},{s:') − ℱ('},{s:'t',i:true},{s:' − 1)'}], 56, 406);
rotLabel(115, 1610, [{s:'Accuracy',i:true}], 62, 260);
rotLabel(111, 2070, [{s:'Hessian λ',i:true},{s:'max',i:true,fs:42,dy:12}], 62, 377);
svg.append('text').attr('x',1511).attr('y',2378).attr('text-anchor','middle').attr('font-family',FONT_M)
  .attr('font-style','italic').attr('font-size',60).attr('fill','#111').text('t');

// ================= ANNOTATIONS =================
const ann = svg.append('g').attr('font-family',FONT_L).attr('font-weight','bold').attr('font-size',84).attr('fill','#000');
function annText(x,y,str,len,anchor,transform){
  const t = ann.append('text').attr('x',x).attr('y',y).attr('text-anchor',anchor||'middle').text(str)
    .attr('textLength',len).attr('lengthAdjust','spacingAndGlyphs');
  if(transform) t.attr('transform',transform);
  return t;
}
annText(0,0,'We move to deeper valleys',1078,'start','translate(1752,600) rotate(8)');
annText(2259,1042,'At the end of some periods',1100);
annText(2259,1147,'there is an instability',840);
annText(2356,1608,'Bifurcations are also',830);
annText(2354,1712,'visible in the accuracy',900);
annText(2228,1945,'A threshold in the curvature',1123);
annText(2228,2048,'triggers the instabilities',949);
annText(0,0,'We move to wider',716,'middle','translate(1045,2343) rotate(7)');
annText(-8,92,'valleys',274,'middle','translate(1045,2343) rotate(5)');

const arr = svg.append('g');
arr.append('line').attr('x1',1957).attr('y1',672).attr('x2',2700).attr('y2',777).attr('stroke','#000').attr('stroke-width',12);
arr.append('polygon').attr('points','2752,786 2703,750 2690,804').attr('fill','#000');
arr.append('line').attr('x1',2787).attr('y1',1070).attr('x2',3072).attr('y2',1105).attr('stroke','#000').attr('stroke-width',9);
arr.append('polygon').attr('points','3116,1108 3070,1083 3070,1128').attr('fill','#000');
arr.append('path').attr('d','M417,2184 C700,2130 1200,2130 1597,2255').attr('fill','none').attr('stroke','#000').attr('stroke-width',16);
arr.append('polygon').attr('points','1659,2273 1607,2224 1587,2286').attr('fill','#000');
</script>
</body></html>
